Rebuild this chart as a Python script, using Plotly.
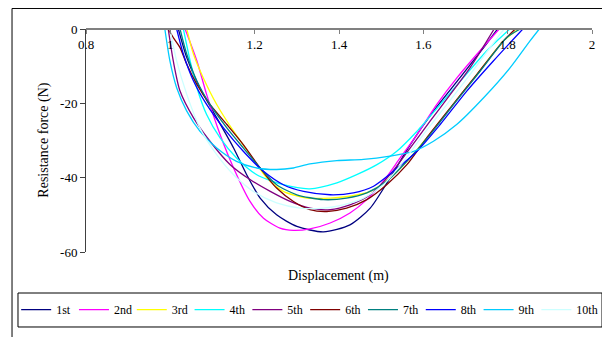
import plotly.graph_objects as go

names = ["1st", "2nd", "3rd", "4th", "5th", "6th", "7th", "8th", "9th", "10th"]
colors = ["#000080", "#FF00FF", "#FFFF00", "#00FFFF", "#800080",
          "#800000", "#008080", "#0000FF", "#00CCFF", "#CCFFFF"]

x1 = [1.019, 1.039, 1.070, 1.110, 1.150, 1.181, 1.213, 1.252, 1.300, 1.363, 1.426, 1.474, 1.521, 1.569, 1.624, 1.687, 1.743, 1.776]
y1 = [0, -7.7, -15.8, -23.9, -32.0, -39.2, -45.5, -50.0, -53.1, -54.6, -52.7, -48.2, -40.1, -31.1, -22.1, -13.1, -5.0, 0]

x2 = [1.035, 1.063, 1.086, 1.118, 1.150, 1.189, 1.221, 1.260, 1.292, 1.331, 1.379, 1.426, 1.466, 1.505, 1.545, 1.585, 1.632, 1.680, 1.727, 1.780]
y2 = [0, -8.6, -17.6, -28.4, -37.4, -46.4, -50.9, -53.6, -54.2, -53.8, -52.2, -49.5, -45.9, -41.0, -34.7, -28.4, -20.3, -13.1, -6.8, 0]

x3 = [1.039, 1.055, 1.078, 1.110, 1.150, 1.189, 1.229, 1.268, 1.324, 1.379, 1.426, 1.474, 1.521, 1.561, 1.608, 1.664, 1.727, 1.790, 1.826]
y3 = [0, -6.8, -13.1, -20.3, -27.5, -33.8, -40.1, -43.7, -45.5, -45.5, -45.0, -43.7, -40.1, -35.6, -29.3, -21.2, -12.2, -3.2, 0]

x4 = [1.031, 1.047, 1.063, 1.086, 1.118, 1.157, 1.205, 1.268, 1.331, 1.395, 1.442, 1.490, 1.537, 1.585, 1.640, 1.695, 1.750, 1.805]
y4 = [0, -8.6, -15.8, -23.0, -29.3, -34.7, -39.2, -41.9, -43.0, -41.4, -39.2, -36.5, -32.9, -27.5, -20.3, -13.1, -5.9, 0]

x5 = [0.995, 1.007, 1.023, 1.055, 1.094, 1.142, 1.189, 1.237, 1.284, 1.331, 1.379, 1.426, 1.474, 1.521, 1.569, 1.616, 1.664, 1.711, 1.768]
y5 = [0, -8.6, -16.7, -23.9, -30.2, -36.5, -40.5, -43.7, -46.4, -48.2, -48.6, -47.3, -44.6, -39.2, -32.0, -24.8, -17.6, -10.4, 0]

x6 = [0.995, 1.007, 1.023, 1.039, 1.063, 1.094, 1.134, 1.173, 1.213, 1.252, 1.292, 1.331, 1.371, 1.418, 1.466, 1.513, 1.561, 1.608, 1.664, 1.727, 1.790, 1.818]
y6 = [0, -2.3, -5.0, -9.5, -14.9, -20.3, -25.7, -31.1, -37.4, -42.8, -46.4, -48.6, -49.1, -48.2, -45.9, -41.9, -36.5, -29.3, -21.2, -12.2, -3.2, 0]

x7 = [1.023, 1.039, 1.063, 1.094, 1.134, 1.173, 1.213, 1.252, 1.300, 1.363, 1.418, 1.466, 1.513, 1.561, 1.616, 1.672, 1.735, 1.798, 1.830]
y7 = [0, -6.8, -14.0, -20.3, -26.6, -32.0, -37.4, -41.9, -44.6, -45.9, -45.5, -44.1, -41.0, -35.6, -28.4, -20.3, -11.3, -2.3, 0]

x8 = [1.015, 1.031, 1.055, 1.086, 1.126, 1.173, 1.221, 1.268, 1.316, 1.379, 1.434, 1.482, 1.529, 1.585, 1.640, 1.703, 1.766, 1.836]
y8 = [0, -6.8, -14.0, -20.3, -26.6, -32.9, -38.3, -41.9, -43.7, -44.6, -44.1, -42.3, -38.3, -32.9, -25.7, -16.7, -8.6, 0]

x9 = [0.987, 0.999, 1.015, 1.039, 1.070, 1.110, 1.157, 1.205, 1.252, 1.292, 1.331, 1.395, 1.458, 1.521, 1.577, 1.624, 1.679, 1.743, 1.806, 1.853, 1.875]
y9 = [0, -8.6, -15.8, -22.1, -27.5, -32.0, -35.6, -37.4, -37.8, -37.4, -36.3, -35.4, -35.1, -34.2, -32.9, -30.2, -25.7, -18.5, -10.4, -3.2, 0]

x10 = [0.999, 1.015, 1.039, 1.070, 1.110, 1.150, 1.197, 1.252, 1.308, 1.363, 1.410, 1.458, 1.505, 1.553, 1.600, 1.656, 1.711, 1.782, 1.792]
y10 = [0, -8.6, -17.6, -26.6, -33.8, -39.2, -43.7, -46.8, -48.2, -48.2, -47.3, -45.5, -41.9, -35.6, -28.4, -20.3, -12.2, -1.4, 0]

xs = [x1, x2, x3, x4, x5, x6, x7, x8, x9, x10]
ys = [y1, y2, y3, y4, y5, y6, y7, y8, y9, y10]

x_ticks = [0.8, 1.0, 1.2, 1.4, 1.6, 1.8, 2.0]
x_ticktext = ["0.8", "1", "1.2", "1.4", "1.6", "1.8", "2"]
y_ticks = [-60, -40, -20, 0]
y_ticktext = ["-60", "-40", "-20", "0"]

FONT = "Liberation Serif, Times New Roman, serif"

fig = go.Figure()
for i, (n, c, xv, yv) in enumerate(zip(names, colors, xs, ys)):
    extra = {"legendwidth": 19} if i == len(names) - 1 else {}
    fig.add_trace(go.Scatter(x=xv, y=yv, mode="lines", name=n,
                             line=dict(color=c, width=1.3, shape="spline", smoothing=0.7),
                             **extra))

# page body has an 8px margin, so the figure is shrunk by 8px
fig.update_layout(
    width=602, height=329,
    margin=dict(l=78, r=18, t=21, b=85, autoexpand=False),
    paper_bgcolor="white", plot_bgcolor="white",
    font=dict(family=FONT, size=12, color="black"),
    xaxis=dict(range=[0.8, 2.0], tickvals=x_ticks, ticktext=x_ticktext,
               anchor="free", position=1, side="bottom",
               ticks="outside", ticklen=4, tickcolor="#808080",
               showline=True, linecolor="#808080", linewidth=1.5,
               showgrid=False, zeroline=False,
               tickfont=dict(family=FONT, size=13, color="black")),
    yaxis=dict(range=[-60, 0], tickvals=y_ticks, ticktext=y_ticktext,
               ticks="outside", ticklen=5, tickcolor="#404040",
               showline=True, linecolor="#404040", linewidth=1,
               showgrid=False, zeroline=False,
               tickfont=dict(family=FONT, size=13, color="black")),
    legend=dict(orientation="h", x=-0.138, y=-0.193, xanchor="left", yanchor="top",
                borderwidth=0, bgcolor="rgba(0,0,0,0)",
                font=dict(family=FONT, size=12, color="black"),
                entrywidth=12.8, itemwidth=30),
    showlegend=True,
)

fig.add_annotation(text="Displacement (m)", xref="paper", yref="paper",
                   x=0.499, y=-0.1076, xanchor="center", yanchor="middle", showarrow=False,
                   font=dict(family=FONT, size=14, color="black"))
fig.add_annotation(text="Resistance force (N)", xref="paper", yref="paper",
                   x=-0.0838, y=0.502, xanchor="center", yanchor="middle",
                   textangle=-90, showarrow=False,
                   font=dict(family=FONT, size=14, color="black"))

# legend box
fig.add_shape(type="rect", xref="paper", yref="paper",
              x0=-0.1344, x1=1.0198, y0=-0.3363, y1=-0.1839,
              line=dict(color="black", width=1), fillcolor="rgba(0,0,0,0)", layer="below")
# outer chart border
fig.add_shape(type="rect", xref="paper", yref="paper",
              x0=-0.1462, x1=1.06, y0=-0.46, y1=1.092,
              line=dict(color="black", width=1), fillcolor="rgba(0,0,0,0)", layer="below")

fig.write_html("out.html")
